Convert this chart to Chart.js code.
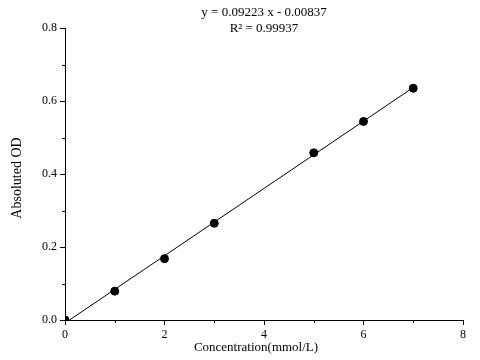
<!DOCTYPE html>
<html>
<head>
<meta charset="utf-8">
<script src="https://cdn.jsdelivr.net/npm/chart.js"></script>
<title>Standard curve</title>
<style>
  body { margin: 0; background: #fff; }
  #chart { width: 480px; height: 360px; }
</style>
</head>
<body>
<div id="chart"><canvas id="curve" width="480" height="360"></canvas></div>
<script>
// measured points
const concentration = [0, 1, 2, 3, 5, 6, 7];
const absorbance = [0, 0.079, 0.168, 0.265, 0.458, 0.544, 0.635];
// ends of the fitted line
const fitX = [0.09, 7];
const fitY = [0, 0.637];
const equation = ['y = 0.09223 x - 0.00837', 'R\u00B2 = 0.99937'];
const xTitle = 'Concentration(mmol/L)';
const yTitle = 'Absoluted OD';
const xMinorTicks = [1, 3, 5, 7];
const yMinorTicks = [0.1, 0.3, 0.5, 0.7];

const serif = '"Liberation Serif", "Times New Roman", serif';

const toPoints = (xs, ys) => xs.map((x, i) => ({ x: x, y: ys[i] }));

// minor ticks, axis titles and the equation text
const extras = {
  id: 'extras',
  afterDraw(chart) {
    const ctx = chart.ctx;
    const xs = chart.scales.x, ys = chart.scales.y;
    const area = chart.chartArea;
    ctx.save();
    ctx.strokeStyle = '#000';
    ctx.lineWidth = 1;
    ctx.beginPath();
    xMinorTicks.forEach(v => {
      const px = Math.round(xs.getPixelForValue(v)) + 0.5;
      ctx.moveTo(px, area.bottom);
      ctx.lineTo(px, area.bottom + 3);
    });
    yMinorTicks.forEach(v => {
      const py = Math.round(ys.getPixelForValue(v)) + 0.5;
      ctx.moveTo(area.left, py);
      ctx.lineTo(area.left - 3, py);
    });
    ctx.stroke();

    ctx.fillStyle = '#000';
    ctx.font = '13px ' + serif;
    ctx.textAlign = 'center';
    ctx.textBaseline = 'alphabetic';
    const cx = (area.left + area.right) / 2;
    ctx.fillText(equation[0], cx, 16);
    ctx.fillText(equation[1], cx, 32);

    ctx.fillText(xTitle, cx - 8, 351);

    ctx.font = '14px ' + serif;
    ctx.translate(17, (area.top + area.bottom) / 2 + 4);
    ctx.rotate(-Math.PI / 2);
    ctx.textBaseline = 'middle';
    ctx.fillText(yTitle, 0, 0);
    ctx.restore();
  }
};

new Chart(document.getElementById('curve'), {
  type: 'scatter',
  data: {
    datasets: [{
      label: 'data',
      data: toPoints(concentration, absorbance),
      pointRadius: 4,
      pointHoverRadius: 4,
      pointBackgroundColor: '#000',
      pointBorderColor: '#000',
      showLine: false,
      clip: 0
    }, {
      label: 'fit',
      data: toPoints(fitX, fitY),
      showLine: true,
      borderColor: '#000',
      borderWidth: 1,
      pointRadius: 0,
      clip: 0
    }]
  },
  options: {
    responsive: false,
    animation: false,
    devicePixelRatio: 1,
    layout: { padding: { top: 28, right: 17, left: 0, bottom: 0 } },
    plugins: {
      legend: { display: false },
      tooltip: { enabled: false }
    },
    scales: {
      x: {
        type: 'linear',
        min: 0,
        max: 8,
        afterFit: s => { s.height = 40; },
        ticks: {
          stepSize: 2,
          color: '#000',
          padding: 3,
          maxRotation: 0,
          font: { family: serif, size: 12 }
        },
        grid: { drawOnChartArea: false, tickLength: 5, color: '#000' },
        border: { display: true, color: '#000', width: 1 }
      },
      y: {
        min: 0,
        max: 0.8,
        afterFit: s => { s.width = 65; },
        ticks: {
          stepSize: 0.2,
          color: '#000',
          padding: 3,
          font: { family: serif, size: 12 },
          callback: v => v.toFixed(1)
        },
        grid: { drawOnChartArea: false, tickLength: 5, color: '#000' },
        border: { display: true, color: '#000', width: 1 }
      }
    }
  },
  plugins: [extras]
});
</script>
</body>
</html>
